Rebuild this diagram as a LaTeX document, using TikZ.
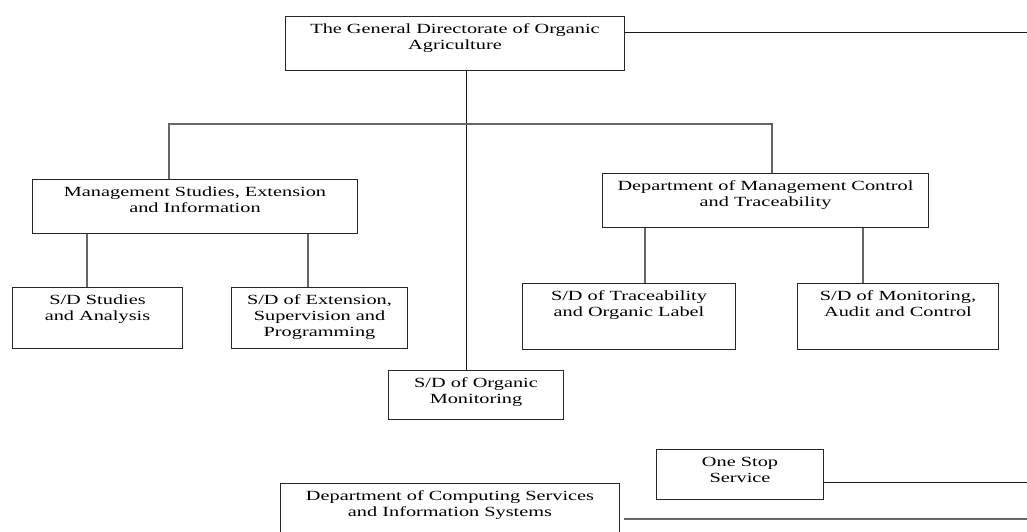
\documentclass[tikz,border=0pt]{standalone}
\usepackage{fontspec}
\setmainfont{Liberation Serif}[FakeStretch=1.45]
\usetikzlibrary{calc}
\newcommand\bxt[3]{\parbox[c][#2][t]{#1}{\centering\fontsize{14}{16}\selectfont\vspace*{5.8pt}\strut #3\strut\par}}
\tikzset{
  orgbox/.style={draw=black!85, line width=1pt, inner sep=0pt, anchor=north west, text=black},
  mainline/.style={draw=black!90, line width=1pt},
  subline/.style={draw=black!60, line width=1.1pt},
}
\begin{document}
\begin{tikzpicture}[x=1pt, y=-1pt]
\useasboundingbox (0,0) rectangle (1027,531);
\clip (0,0) rectangle (1027,531);
\fill[white] (0,0) rectangle (1027,531);

% helper coordinates (x or y positions)
\coordinate (rend) at (1027,0);
\coordinate (tr) at (466,0);
\coordinate (b1) at (169,0);
\coordinate (b2) at (772,0);
\coordinate (bar) at (0,124);
\coordinate (s1) at (87,0);
\coordinate (s2) at (308,0);
\coordinate (s3) at (645,0);
\coordinate (s4) at (863,0);

\node[orgbox] (top) at (285,16) {\bxt{339pt}{54pt}{The General Directorate of Organic\\Agriculture}};
\node[orgbox] (mgmt) at (32,179) {\bxt{325pt}{54pt}{Management Studies, Extension\\and Information}};
\node[orgbox] (ctrl) at (602,173) {\bxt{326pt}{54pt}{Department of Management Control\\and Traceability}};
\node[orgbox] (studies) at (12,287) {\bxt{170pt}{61pt}{S/D Studies\\and Analysis}};
\node[orgbox] (ext) at (231,287) {\bxt{176pt}{61pt}{S/D of Extension,\\Supervision and\\Programming}};
\node[orgbox] (trace) at (522,283) {\bxt{213pt}{66pt}{S/D of Traceability\\and Organic Label}};
\node[orgbox] (monit) at (797,283) {\bxt{201pt}{66pt}{S/D of Monitoring,\\Audit and Control}};
\node[orgbox] (organic) at (388,370) {\bxt{175pt}{49pt}{S/D of Organic\\Monitoring}};
\node[orgbox] (onestop) at (656,449) {\bxt{167pt}{50pt}{One Stop\\Service}};
\node[orgbox] (comp) at (280,483) {\bxt{339pt}{70pt}{Department of Computing Services\\and Information Systems}};

% connectors
\coordinate (tre) at ($(top.north east)+(0,16)$);
\draw[mainline] (tre) -- (tre -| rend);
\draw[mainline] (top.south -| tr) -- (organic.north -| tr);
\draw[subline] (mgmt.north -| b1) -- (b1 |- bar) -- (b2 |- bar) -- (ctrl.north -| b2);
\draw[subline] (mgmt.south -| s1) -- (studies.north -| s1);
\draw[subline] (mgmt.south -| s2) -- (ext.north -| s2);
\draw[subline] (ctrl.south -| s3) -- (trace.north -| s3);
\draw[subline] (ctrl.south -| s4) -- (monit.north -| s4);
\coordinate (ose) at ($(onestop.north east)+(0,33)$);
\draw[mainline] (ose) -- (ose -| rend);
\coordinate (cpe) at ($(comp.north east)+(4,36)$);
\draw[subline] (cpe) -- (cpe -| rend);
\end{tikzpicture}
\end{document}
